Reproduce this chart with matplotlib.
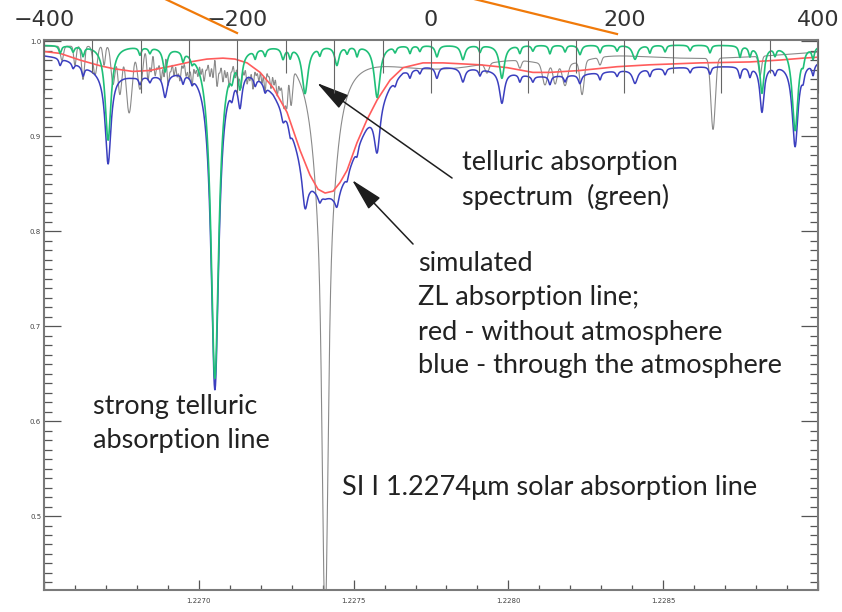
import numpy as np
import matplotlib
matplotlib.use('Agg')
import matplotlib.pyplot as plt
from matplotlib.ticker import MultipleLocator, FuncFormatter
from matplotlib.lines import Line2D

# ZL line without atmosphere (red): wavelength [um], normalised flux
zl_wave = [1.226500, 1.226552, 1.226616, 1.226681, 1.226723, 1.226787, 1.226842,
           1.226917, 1.226972, 1.227026, 1.227078, 1.227117, 1.227156, 1.227198,
           1.227240, 1.227285, 1.227327, 1.227359, 1.227385, 1.227408, 1.227434,
           1.227456, 1.227479, 1.227511, 1.227543, 1.227576, 1.227618, 1.227660,
           1.227724, 1.227789, 1.227908, 1.227996, 1.228079, 1.228134, 1.228231,
           1.228351, 1.228457, 1.228619, 1.228780, 1.228877, 1.228952, 1.229000]
zl_flux = [0.989, 0.987, 0.980, 0.974, 0.971, 0.968, 0.969,
           0.974, 0.978, 0.981, 0.982, 0.981, 0.977, 0.967,
           0.951, 0.925, 0.885, 0.859, 0.844, 0.840, 0.842,
           0.851, 0.864, 0.893, 0.917, 0.938, 0.959, 0.972,
           0.977, 0.977, 0.975, 0.972, 0.967, 0.967, 0.969,
           0.973, 0.975, 0.977, 0.978, 0.980, 0.982, 0.983]

# telluric lines (green): centre [um], depth, lorentz half width [um]
tell_cont = 0.996
tell_wave = [1.226707, 1.226891, 1.227052, 1.227107, 1.227133, 1.227272, 1.227343,
             1.227446, 1.227576, 1.227769, 1.227853, 1.227979, 1.228231, 1.228409,
             1.228819, 1.228926,
             1.226552, 1.226594, 1.226626, 1.226810, 1.226842, 1.226949, 1.226978,
             1.227182, 1.227214, 1.227295, 1.227391, 1.227479, 1.227511, 1.227634,
             1.227682, 1.227714, 1.227908, 1.228037, 1.228079, 1.228134, 1.228183,
             1.228296, 1.228351, 1.228457, 1.228506, 1.228587, 1.228651, 1.228748,
             1.228780, 1.228861, 1.228952, 1.228984]
tell_depth = [0.100, 0.025, 0.352, 0.015, 0.035, 0.012, 0.050,
              0.020, 0.055, 0.012, 0.015, 0.035, 0.010, 0.015,
              0.050, 0.090,
              0.008, 0.006, 0.010, 0.008, 0.006, 0.010, 0.007,
              0.009, 0.008, 0.010, 0.008, 0.007, 0.010, 0.006,
              0.008, 0.006, 0.007, 0.008, 0.006, 0.009, 0.007,
              0.008, 0.006, 0.008, 0.007, 0.006, 0.008, 0.012,
              0.010, 0.008, 0.010, 0.012]
tell_hwhm = [1.13e-5, 8.1e-6, 1.52e-5, 6.5e-6, 8.1e-6, 6.5e-6, 1.13e-5,
             8.1e-6, 1.13e-5, 6.5e-6, 8.1e-6, 9.7e-6, 6.5e-6, 9.7e-6,
             8.1e-6, 1.13e-5] + [4.8e-6] * 32

# solar spectrum (grey): centre [um], depth, gaussian sigma [um]
sun_cont = 0.995
sun_wave = [1.226558, 1.226600, 1.226626, 1.226665, 1.226694, 1.226723, 1.226745,
            1.226775, 1.226810, 1.226836, 1.226859, 1.226878, 1.226901, 1.226920,
            1.226939, 1.226959, 1.226978, 1.226997, 1.227017, 1.227036, 1.227059,
            1.227078, 1.227098, 1.227117, 1.227136, 1.227156, 1.227175, 1.227194,
            1.227214, 1.227233, 1.227253, 1.227275, 1.227298,
            1.227779, 1.228167, 1.228619, 1.227931, 1.228037, 1.228118, 1.228151,
            1.228183, 1.228238, 1.228296, 1.228661, 1.228813]
sun_depth = [0.015, 0.020, 0.035, 0.030, 0.020, 0.040, 0.050,
             0.070, 0.045, 0.035, 0.030, 0.035, 0.040, 0.030,
             0.035, 0.030, 0.040, 0.030, 0.035, 0.030, 0.040,
             0.035, 0.040, 0.030, 0.040, 0.035, 0.040, 0.030,
             0.040, 0.035, 0.040, 0.050, 0.040,
             0.022, 0.012, 0.013, 0.010, 0.008, 0.022, 0.020,
             0.022, 0.035, 0.008, 0.075, 0.020]
sun_sigma = [4.8e-6, 3.9e-6, 4.8e-6, 6.5e-6, 3.9e-6, 6.5e-6, 6.5e-6,
             9.7e-6, 8.1e-6] + [3.9e-6] * 22 + [6.5e-6, 4.8e-6] + \
            [1.94e-4, 8.1e-5, 3.23e-4, 6.5e-6, 4.8e-6, 8.1e-6, 6.5e-6,
             8.1e-6, 6.5e-6, 4.8e-6, 7.1e-6, 4.8e-6]

# weak solar blends filling the blue side of the window
forest_wave = [1.226846, 1.226868, 1.226888, 1.226910, 1.226930, 1.226949,
               1.226968, 1.226988, 1.227007, 1.227026, 1.227046, 1.227068,
               1.227088, 1.227107, 1.227127, 1.227146, 1.227165, 1.227185,
               1.227204, 1.227224, 1.227243, 1.227262, 1.227285]
forest_depth = [0.025, 0.020, 0.030, 0.022, 0.028, 0.020, 0.030, 0.024,
                0.026, 0.020, 0.030, 0.022, 0.028, 0.020, 0.030, 0.024,
                0.028, 0.022, 0.030, 0.020, 0.028, 0.024, 0.030]
forest_sigma = 3.2e-6

# Si I 1.2274 um: lorentz wings plus a narrow core
si_wave = 1.227408
si_wing_depth, si_wing_hwhm = 0.30, 3.07e-5
si_core_depth, si_core_sigma = 0.30, 8.1e-6

wave = np.linspace(1.2265, 1.2290, 8000)

green = np.full_like(wave, tell_cont)
for c, d, g in zip(tell_wave, tell_depth, tell_hwhm):
    green *= 1 - d / (1 + ((wave - c) / g) ** 2)

grey = np.full_like(wave, sun_cont)
for c, d, s in zip(sun_wave, sun_depth, sun_sigma):
    grey -= d * np.exp(-0.5 * ((wave - c) / s) ** 2)
for c, d in zip(forest_wave, forest_depth):
    grey -= d * np.exp(-0.5 * ((wave - c) / forest_sigma) ** 2)
grey -= si_wing_depth / (1 + ((wave - si_wave) / si_wing_hwhm) ** 2)
grey -= si_core_depth * np.exp(-0.5 * ((wave - si_wave) / si_core_sigma) ** 2)

# ZL through the atmosphere
blue = np.interp(wave, zl_wave, zl_flux) * green

fig = plt.figure(figsize=(8.42, 6.12), dpi=100)
ax = fig.add_axes([44 / 842, 22 / 612, 774 / 842, 550 / 612])

ax.plot(wave, grey, color='#8a8a8a', lw=0.8)
ax.plot(wave, blue, color='#3b3fbf', lw=1.1)
ax.plot(zl_wave, zl_flux, color='#ff5c5c', lw=1.2)
ax.plot(wave, green, color='#1fbf78', lw=1.2)

ax.set_xlim(1.2265, 1.2290)
ax.set_ylim(0.4221, 1.0011)

ax.xaxis.set_major_locator(MultipleLocator(0.0005))
ax.xaxis.set_minor_locator(MultipleLocator(0.0001))
ax.xaxis.set_major_formatter(
    FuncFormatter(lambda v, p: '%.4f' % v if 1.22675 < v < 1.22875 else ''))
ax.yaxis.set_major_locator(MultipleLocator(0.1))
ax.yaxis.set_minor_locator(MultipleLocator(0.01))
ax.yaxis.set_major_formatter(FuncFormatter(lambda v, p: '%.1f' % v))

ax.tick_params(axis='x', which='both', direction='in', top=False, bottom=True,
               color='#555555', labelsize=5, labelcolor='#444444', pad=6)
ax.tick_params(axis='x', which='major', length=7, width=0.9)
ax.tick_params(axis='x', which='minor', length=3.6, width=0.9)
ax.tick_params(axis='y', which='both', direction='in', left=True, right=True,
               color='#555555', labelsize=5, labelcolor='#444444', pad=2)
ax.tick_params(axis='y', which='major', length=12, width=0.9)
ax.tick_params(axis='y', which='minor', length=6, width=0.9)

for sp in ax.spines.values():
    sp.set_color('#7a7a7a')
    sp.set_linewidth(1.5)

# velocity scale along the top
ax2 = ax.twiny()
ax2.set_xlim(-400, 400)
ax2.xaxis.set_major_locator(MultipleLocator(100))
ax2.xaxis.set_minor_locator(MultipleLocator(50))
ax2.xaxis.set_major_formatter(
    FuncFormatter(lambda v, p: ('%d' % v).replace('-', '\u2212') if round(v) % 200 == 0 else ''))
ax2.tick_params(axis='x', which='both', direction='in', top=True, bottom=False,
                color='#666666', labelsize=16, labelcolor='#333333', pad=7)
ax2.tick_params(axis='x', which='major', length=38, width=0.8)
ax2.tick_params(axis='x', which='minor', length=24, width=0.8)
for sp in ax2.spines.values():
    sp.set_visible(False)

# callout lines coming in from above
for (x0, y0), (x1, y1) in [((163, -2), (237, 33)), ((470, -2), (617, 34))]:
    fig.add_artist(Line2D([x0 / 842, x1 / 842], [1 - y0 / 612, 1 - y1 / 612],
                          color='#f07a0a', lw=1.6, transform=fig.transFigure))

arrow = dict(arrowstyle='-|>,head_length=1.7,head_width=0.42', color='#1e1e1e',
             lw=1.1, mutation_scale=12, shrinkA=0, shrinkB=0)
ax.annotate('', xy=(1.227382, 0.9558), xytext=(1.227818, 0.8558), arrowprops=arrow)
ax.annotate('', xy=(1.227495, 0.8537), xytext=(1.227692, 0.7863), arrowprops=arrow)

tkw = dict(fontsize=19.5, family='Lato', color='#222222', va='baseline', ha='left')
ax.text(1.227850, 0.8642, 'telluric absorption', **tkw)
ax.text(1.227850, 0.8274, 'spectrum  (green)', **tkw)
ax.text(1.227708, 0.7579, 'simulated', **tkw)
ax.text(1.227708, 0.7221, 'ZL absorption line;', **tkw)
ax.text(1.227708, 0.6853, 'red - without atmosphere', **tkw)
ax.text(1.227708, 0.6505, 'blue - through the atmosphere', **tkw)
ax.text(1.226658, 0.6074, 'strong telluric', **tkw)
ax.text(1.226658, 0.5716, 'absorption line', **tkw)
ax.text(1.227463, 0.5221, 'SI I 1.2274\u03bcm solar absorption line', **tkw)

fig.savefig('out.png', dpi=100)
